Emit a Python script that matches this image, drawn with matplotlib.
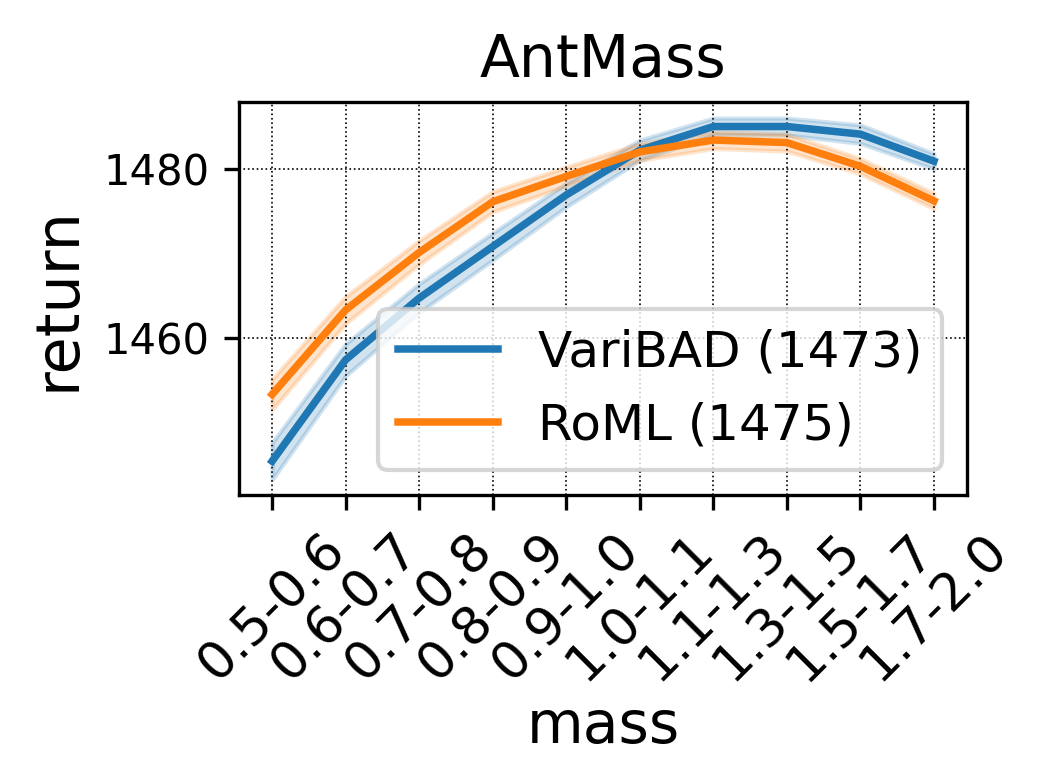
import matplotlib
matplotlib.use("Agg")
import matplotlib.pyplot as plt
import numpy as np

categories = ["0.5-0.6", "0.6-0.7", "0.7-0.8", "0.8-0.9", "0.9-1.0",
              "1.0-1.1", "1.1-1.3", "1.3-1.5", "1.5-1.7", "1.7-2.0"]
varibad_mean = [1445.4, 1457.4, 1464.7, 1470.8, 1476.9, 1482.2, 1485.0, 1485.0, 1484.1, 1480.9]
varibad_err = [2.2, 1.9, 1.7, 1.6, 1.4, 1.2, 1.0, 1.0, 1.1, 0.9]
roml_mean = [1453.3, 1463.3, 1470.1, 1476.1, 1479.1, 1482.0, 1483.4, 1483.1, 1480.3, 1476.2]
roml_err = [1.8, 1.6, 1.4, 1.2, 1.1, 1.0, 1.0, 1.0, 0.9, 0.9]
series_labels = ["VariBAD (1473)", "RoML (1475)"]
colors = ["#1f77b4", "#ff7f0e"]

DPI = 300
fig = plt.figure(figsize=(1047 / DPI, 780 / DPI), dpi=DPI)
ax = fig.add_axes([0.2283, 0.3654, 0.9236 - 0.2283, 0.8692 - 0.3654])

x = np.arange(len(categories))
for mean, err, lab, c in [(varibad_mean, varibad_err, series_labels[0], colors[0]),
                          (roml_mean, roml_err, series_labels[1], colors[1])]:
    m = np.array(mean)
    e = np.array(err)
    ax.plot(x, m, color=c, lw=1.8, label=lab)
    ax.fill_between(x, m - e, m + e, color=c, alpha=0.2, lw=1.0)

ax.set_xticks(x)
ax.set_xticklabels(categories, rotation=45, fontsize=12.5)
ax.set_yticks([1460, 1480])
ax.tick_params(axis="y", labelsize=10)
ax.set_ylim(1441.4, 1487.9)
ax.set_xlim(-0.45, 9.45)
ax.grid(True, color="black", linestyle=":", linewidth=0.4)
ax.set_title("AntMass", fontsize=14)
ax.set_xlabel("mass", fontsize=14, labelpad=2)
ax.set_ylabel("return", fontsize=14.5)
ax.legend(loc="lower right", fontsize=12)

fig.savefig("out.png", dpi=DPI)
